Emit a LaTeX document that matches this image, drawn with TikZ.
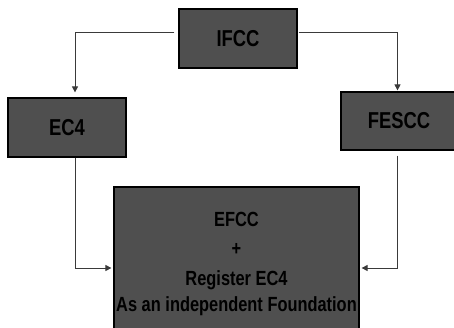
\documentclass[tikz,border=0pt]{standalone}
\usepackage{fontspec}
\setmainfont[FakeStretch=0.8]{Liberation Sans}
\usetikzlibrary{arrows.meta}
\definecolor{boxgray}{HTML}{4F4F4F}
\definecolor{linegray}{HTML}{3A3A3A}
\tikzset{
	org box/.style={
		draw=black,
		line width=1.2pt,
		fill=boxgray,
		rectangle,
		font=\bfseries\fontsize{23}{26}\selectfont,
		text=black,
		minimum width=#1,
		minimum height=59pt,
		inner sep=0pt,
	},
	org box/.default=118pt,
	org line/.style={ % requires library arrows.meta
		draw=linegray,
		line width=0.8pt,
		-{Triangle[length=6pt,width=6pt]},
	},
}

\begin{document}
\begin{tikzpicture}[x=1pt,y=1pt]
		\useasboundingbox (0,0) rectangle (454,327);
		\node[org box] (ifcc) at (238,288.5) {IFCC};
		\node[org box] (ec4) at (67,199.5) {EC4};
		\node[org box=116pt,minimum height=58pt] (fescc) at (399,206) {FESCC};
		\node[org box=245pt,minimum height=154pt,align=center,
			font=\bfseries\fontsize{20.5}{26}\selectfont] (efcc) at (236.5,63) {EFCC\\[3pt]+\\[4pt]Register EC4\\As an independent Foundation};
		\draw[org line,shorten <=4pt,shorten >=5pt] ([yshift=6.5pt]ifcc.west) -| ([xshift=8pt]ec4.north);
		\draw[org line,shorten <=1pt,shorten >=1pt] ([yshift=6.5pt]ifcc.east) -| ([xshift=-1.5pt]fescc.north);
		\draw[org line,shorten >=2pt] ([xshift=8pt]ec4.south) |- ([yshift=-4pt]efcc.west);
		\draw[org line,shorten <=5pt,shorten >=2pt] ([xshift=-1.5pt]fescc.south) |- ([yshift=-4pt]efcc.east);
\end{tikzpicture}
\end{document}
